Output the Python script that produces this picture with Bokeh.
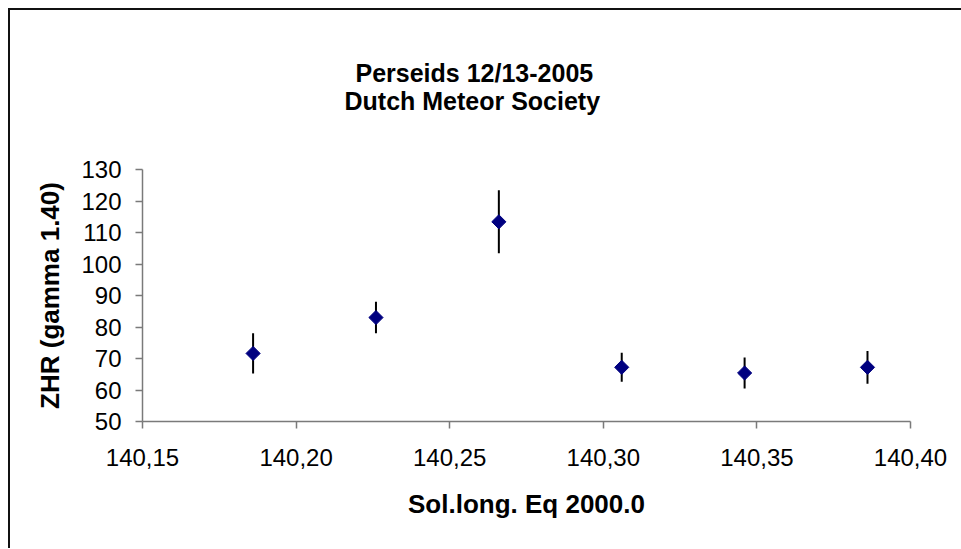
import numpy as np
from bokeh.plotting import figure
from bokeh.models import Title, FixedTicker, ColumnDataSource
from bokeh.embed import file_html
from bokeh.resources import INLINE

# ---- data ----
sol_long = [140.186, 140.226, 140.266, 140.306, 140.346, 140.386]
zhr = [71.6, 83.0, 113.4, 67.2, 65.4, 67.2]
zhr_err = [6.4, 5.0, 10.0, 4.6, 4.9, 5.2]
x_ticks = [140.15, 140.20, 140.25, 140.30, 140.35, 140.40]
x_tick_labels = ["140,15", "140,20", "140,25", "140,30", "140,35", "140,40"]
y_ticks = [50, 60, 70, 80, 90, 100, 110, 120, 130]
title_lines = ["Perseids 12/13-2005", "Dutch Meteor Society"]
x_title = "Sol.long. Eq 2000.0"
y_title = "ZHR (gamma 1.40)"

lower = [v - e for v, e in zip(zhr, zhr_err)]
upper = [v + e for v, e in zip(zhr, zhr_err)]
src = ColumnDataSource(dict(x=sol_long, y=zhr, lo=lower, hi=upper))

FONT = "Liberation Sans"
AXIS_COLOR = "#7a7a7a"

p = figure(frame_width=768, frame_height=252,
           x_range=(x_ticks[0], x_ticks[-1]), y_range=(y_ticks[0], y_ticks[-1]),
           output_backend="svg", toolbar_location=None, title=None,
           min_border_left=132, min_border_right=51,
           min_border_top=159, min_border_bottom=127)
p.styles = {"margin-left": "8px", "margin-top": "8px",
            "border-left": "2px solid #111111", "border-top": "2px solid #111111"}

p.segment(x0="x", y0="lo", x1="x", y1="hi", source=src,
          line_color="black", line_width=2)
p.scatter("x", "y", source=src, marker="square", angle=np.pi / 4, size=10,
          fill_color="#000080", line_color="#000080")

# titles: first added sits closest to the frame
spacer = Title(text=" ", text_font=FONT, text_font_size="25px", standoff=25)
t2 = Title(text=title_lines[1], align="left", offset=202,
           text_font=FONT, text_font_size="25px", text_font_style="bold",
           text_color="black", standoff=0)
t1 = Title(text=title_lines[0], align="left", offset=213,
           text_font=FONT, text_font_size="25px", text_font_style="bold",
           text_color="black", standoff=-4)
p.add_layout(spacer, "above")
p.add_layout(t2, "above")
p.add_layout(t1, "above")

p.xgrid.visible = False
p.ygrid.visible = False
p.outline_line_color = None
p.background_fill_color = "white"
p.border_fill_color = "white"

p.xaxis.ticker = FixedTicker(ticks=x_ticks)
p.xaxis.major_label_overrides = dict(zip(x_ticks, x_tick_labels))
p.yaxis.ticker = FixedTicker(ticks=y_ticks)

for ax in (p.xaxis[0], p.yaxis[0]):
    ax.axis_line_color = AXIS_COLOR
    ax.axis_line_width = 1.5
    ax.major_tick_line_color = AXIS_COLOR
    ax.major_tick_line_width = 1.5
    ax.major_tick_in = 0
    ax.major_tick_out = 7
    ax.minor_tick_line_color = None
    ax.major_label_text_font = FONT
    ax.major_label_text_font_size = "24px"
    ax.major_label_text_color = "black"
    ax.axis_label_text_font = FONT
    ax.axis_label_text_font_size = "26px"
    ax.axis_label_text_font_style = "bold"
    ax.axis_label_text_color = "black"

p.xaxis.axis_label = x_title
p.yaxis.axis_label = y_title
p.xaxis.major_label_standoff = 20
p.xaxis.axis_label_standoff = 20
p.yaxis.major_label_standoff = 14
p.yaxis.axis_label_standoff = 13

open("out.html", "w").write(file_html(p, INLINE))
